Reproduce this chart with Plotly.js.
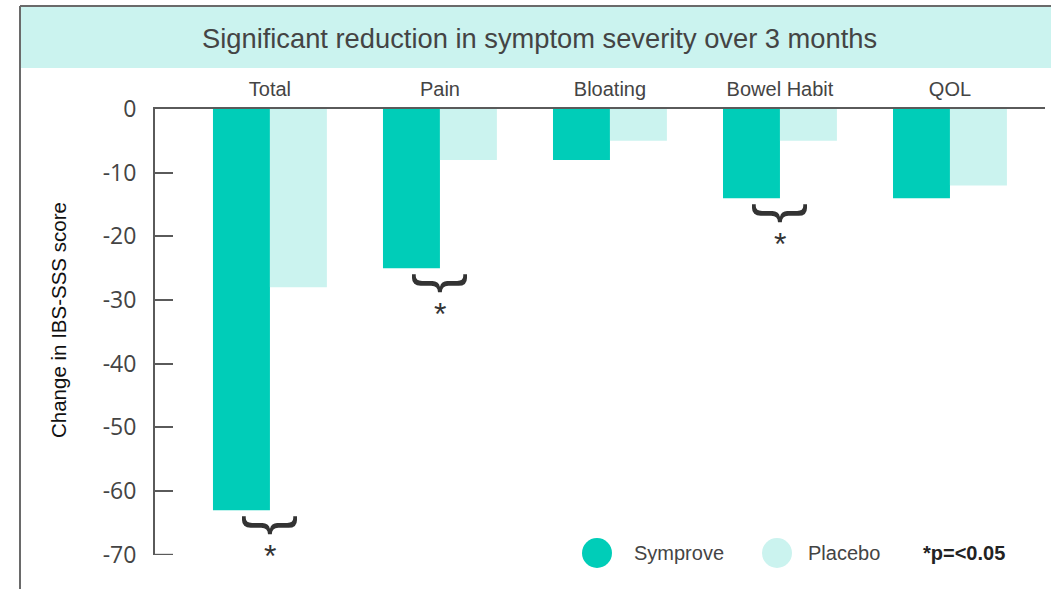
<!DOCTYPE html>
<html>
<head>
<meta charset="utf-8">
<script src="https://cdn.plot.ly/plotly-3.0.1.min.js"></script>
<style>html,body{margin:0;padding:0;background:#fff;}#chart{width:1051px;height:589px;}</style>
</head>
<body>
<div id="chart"></div>
<script>
const categories = ["Total", "Pain", "Bloating", "Bowel Habit", "QOL"];
const symprove = [-63, -25, -8, -14, -14];
const placebo = [-28, -8, -5, -5, -12];
const significant = [true, true, false, true, false];
const yTicks = [0, -10, -20, -30, -40, -50, -60, -70];
const yTickText = ["0", "-10", "-20", "-30", "-40", "-50", "-60", "-70"];
const titleText = "Significant reduction in symptom severity over 3 months";
const yTitle = "Change in IBS-SSS score";
const legendNames = ["Symprove", "Placebo"];
const footnote = "*p=<0.05";

const C_SYM = "#00CDB8";
const C_PLA = "#CBF3EF";
const C_AXIS = "#5a5a5a";
const FONT = "Liberation Sans, Arial, sans-serif";
const TICKFONT = "Open Sans, Lato, sans-serif";

// pixel helpers (plot area: l=155, r=6, t=109, b=34 in a 1051x589 page)
const L = 155, R = 6, T = 109, B = 34, W = 1051, H = 589;
const pw = W - L - R, ph = H - T - B;
const px = x => (x - L) / pw;
const py = y => (H - B - y) / ph;

const traces = [
  {type: "bar", x: categories, y: symprove, name: legendNames[0], marker: {color: C_SYM}, showlegend: false, hoverinfo: "x+y"},
  {type: "bar", x: categories, y: placebo, name: legendNames[1], marker: {color: C_PLA}, showlegend: false, hoverinfo: "x+y"}
];

const annotations = [
  {xref: "paper", yref: "paper", x: px(539), y: py(38), text: titleText, showarrow: false,
   xanchor: "center", yanchor: "middle", font: {family: FONT, size: 27.3, color: "#444"}},
  {xref: "paper", yref: "paper", x: px(58), y: py(320), text: yTitle, showarrow: false, textangle: -90,
   xanchor: "center", yanchor: "middle", font: {family: FONT, size: 20.5, color: "#111"}},
  {xref: "paper", yref: "paper", x: px(632), y: py(553), text: legendNames[0], showarrow: false,
   xanchor: "left", yanchor: "middle", font: {family: FONT, size: 20, color: "#444"}},
  {xref: "paper", yref: "paper", x: px(806), y: py(553), text: legendNames[1], showarrow: false,
   xanchor: "left", yanchor: "middle", font: {family: FONT, size: 20, color: "#444"}},
  {xref: "paper", yref: "paper", x: px(921), y: py(553), text: "<b>" + footnote + "</b>", showarrow: false,
   xanchor: "left", yanchor: "middle", font: {family: FONT, size: 20, color: "#222"}}
];

categories.forEach((c, i) => {
  if (!significant[i]) return;
  annotations.push({x: c, y: symprove[i], xref: "x", yref: "y", text: "}", textangle: 90, showarrow: false,
    xanchor: "center", yanchor: "top", xshift: 5, yshift: -3, font: {family: FONT, size: 60, color: "#333"}});
  annotations.push({x: c, y: symprove[i], xref: "x", yref: "y", text: "*", showarrow: false,
    xanchor: "center", yanchor: "top", yshift: -26, font: {family: FONT, size: 32, color: "#333"}});
});

const shapes = [
  {type: "rect", xref: "paper", yref: "paper", x0: px(20), x1: px(1060), y0: py(68), y1: py(6),
   fillcolor: C_PLA, line: {width: 0}, layer: "below"},
  {type: "line", xref: "paper", yref: "paper", x0: px(20), x1: px(1060), y0: py(6), y1: py(6),
   line: {color: "#6a6a6a", width: 2}},
  {type: "line", xref: "paper", yref: "paper", x0: px(20), x1: px(20), y0: py(6), y1: py(600),
   line: {color: "#6a6a6a", width: 2}},
  {type: "line", xref: "paper", yref: "y", x0: px(154), x1: px(173), y0: yTicks[yTicks.length - 1], y1: yTicks[yTicks.length - 1],
   line: {color: C_AXIS, width: 2}},
  {type: "circle", xref: "paper", yref: "paper", xsizemode: "pixel", ysizemode: "pixel",
   xanchor: px(597), yanchor: py(553), x0: -15, x1: 15, y0: -15, y1: 15, fillcolor: C_SYM, line: {width: 0}},
  {type: "circle", xref: "paper", yref: "paper", xsizemode: "pixel", ysizemode: "pixel",
   xanchor: px(777), yanchor: py(553), x0: -15, x1: 15, y0: -15, y1: 15, fillcolor: C_PLA, line: {width: 0}}
];

const layout = {
  width: W, height: H,
  margin: {l: L, r: R, t: T, b: B, pad: 0},
  paper_bgcolor: "#fff", plot_bgcolor: "#fff",
  barmode: "group", bargap: 0.33, bargroupgap: 0,
  showlegend: false,
  xaxis: {side: "top", range: [-0.676, 4.559], showline: true, linecolor: C_AXIS, linewidth: 2,
          showgrid: false, zeroline: false, ticks: "", ticklabelstandoff: 3,
          tickfont: {family: FONT, size: 20, color: "#444"}, fixedrange: true},
  yaxis: {range: [-70.03, 0], tickvals: yTicks, ticktext: yTickText, showline: true, linecolor: C_AXIS, linewidth: 2,
          ticks: "inside", ticklen: 18, tickwidth: 2, tickcolor: C_AXIS, showgrid: false, zeroline: false,
          ticklabelstandoff: 12, tickfont: {family: TICKFONT, size: 23, color: "#444"}, fixedrange: true},
  annotations: annotations,
  shapes: shapes
};

Plotly.newPlot("chart", traces, layout, {displayModeBar: false, staticPlot: true});
</script>
</body>
</html>
